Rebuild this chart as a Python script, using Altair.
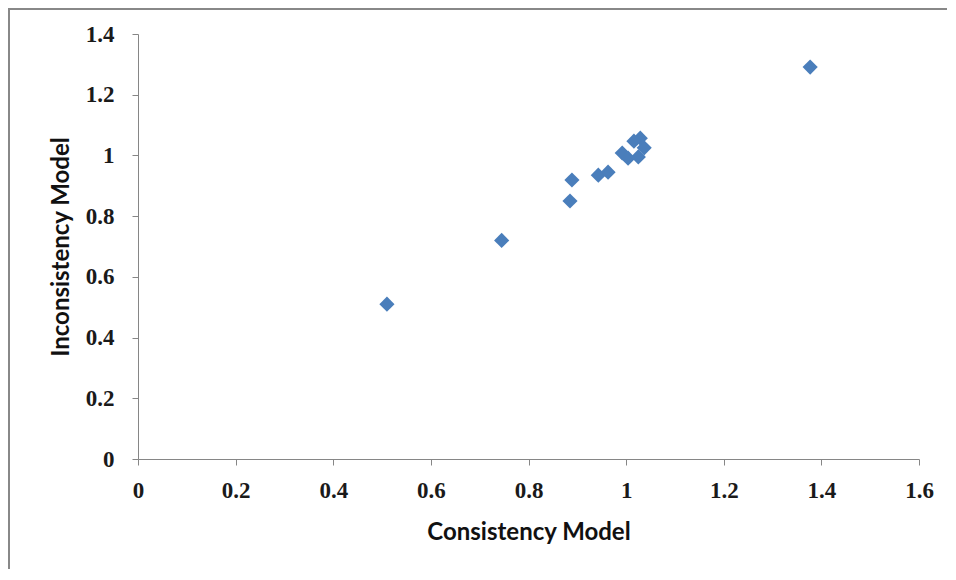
import altair as alt
import pandas as pd

consistency = [0.51, 0.745, 0.885, 0.889, 0.943, 0.963, 0.992, 1.004, 1.025, 1.037, 1.029, 1.016, 1.377]
inconsistency = [0.51, 0.72, 0.85, 0.919, 0.935, 0.945, 1.008, 0.991, 0.995, 1.025, 1.057, 1.047, 1.291]
x_ticks = [0, 0.2, 0.4, 0.6, 0.8, 1, 1.2, 1.4, 1.6]
y_ticks = [0, 0.2, 0.4, 0.6, 0.8, 1, 1.2, 1.4]

df = pd.DataFrame({"Consistency Model": consistency, "Inconsistency Model": inconsistency})

axis_common = dict(
    grid=False,
    domainColor="#868686",
    tickColor="#868686",
    tickSize=6,
    labelFlush=False,
    labelFont="Liberation Serif",
    labelFontSize=23,
    labelFontWeight="bold",
    labelColor="#1a1a1a",
    titleFont="Lato",
    titleFontSize=24,
    titleFontWeight="bold",
    titleColor="#111111",
)

points = alt.Chart(df).mark_point(
    shape="diamond", filled=True, size=230, color="#4a7ebb", opacity=1
).encode(
    x=alt.X("Consistency Model:Q", scale=alt.Scale(domain=[0, 1.6], nice=False),
            axis=alt.Axis(values=x_ticks, format="~g", labelPadding=14, titlePadding=18, **axis_common)),
    y=alt.Y("Inconsistency Model:Q", scale=alt.Scale(domain=[0, 1.4], nice=False),
            axis=alt.Axis(values=y_ticks, format="~g", labelPadding=18, titlePadding=12, **axis_common)),
)

frame_top = alt.Chart(df).mark_rule(color="#888888", strokeWidth=2).encode(
    x=alt.value(-130), x2=alt.value(810), y=alt.value(-25)
)
frame_left = alt.Chart(df).mark_rule(color="#888888", strokeWidth=2).encode(
    x=alt.value(-129), y=alt.value(-26), y2=alt.value(540)
)

chart = alt.layer(frame_top, frame_left, points).properties(
    width=781, height=425,
    autosize=alt.AutoSizeParams(type="none"),
    padding={"left": 130, "top": 26, "right": 28, "bottom": 110},
    background="#ffffff",
).configure_view(stroke=None)

chart.save("out.html", embed_options={"renderer": "svg", "actions": False})
